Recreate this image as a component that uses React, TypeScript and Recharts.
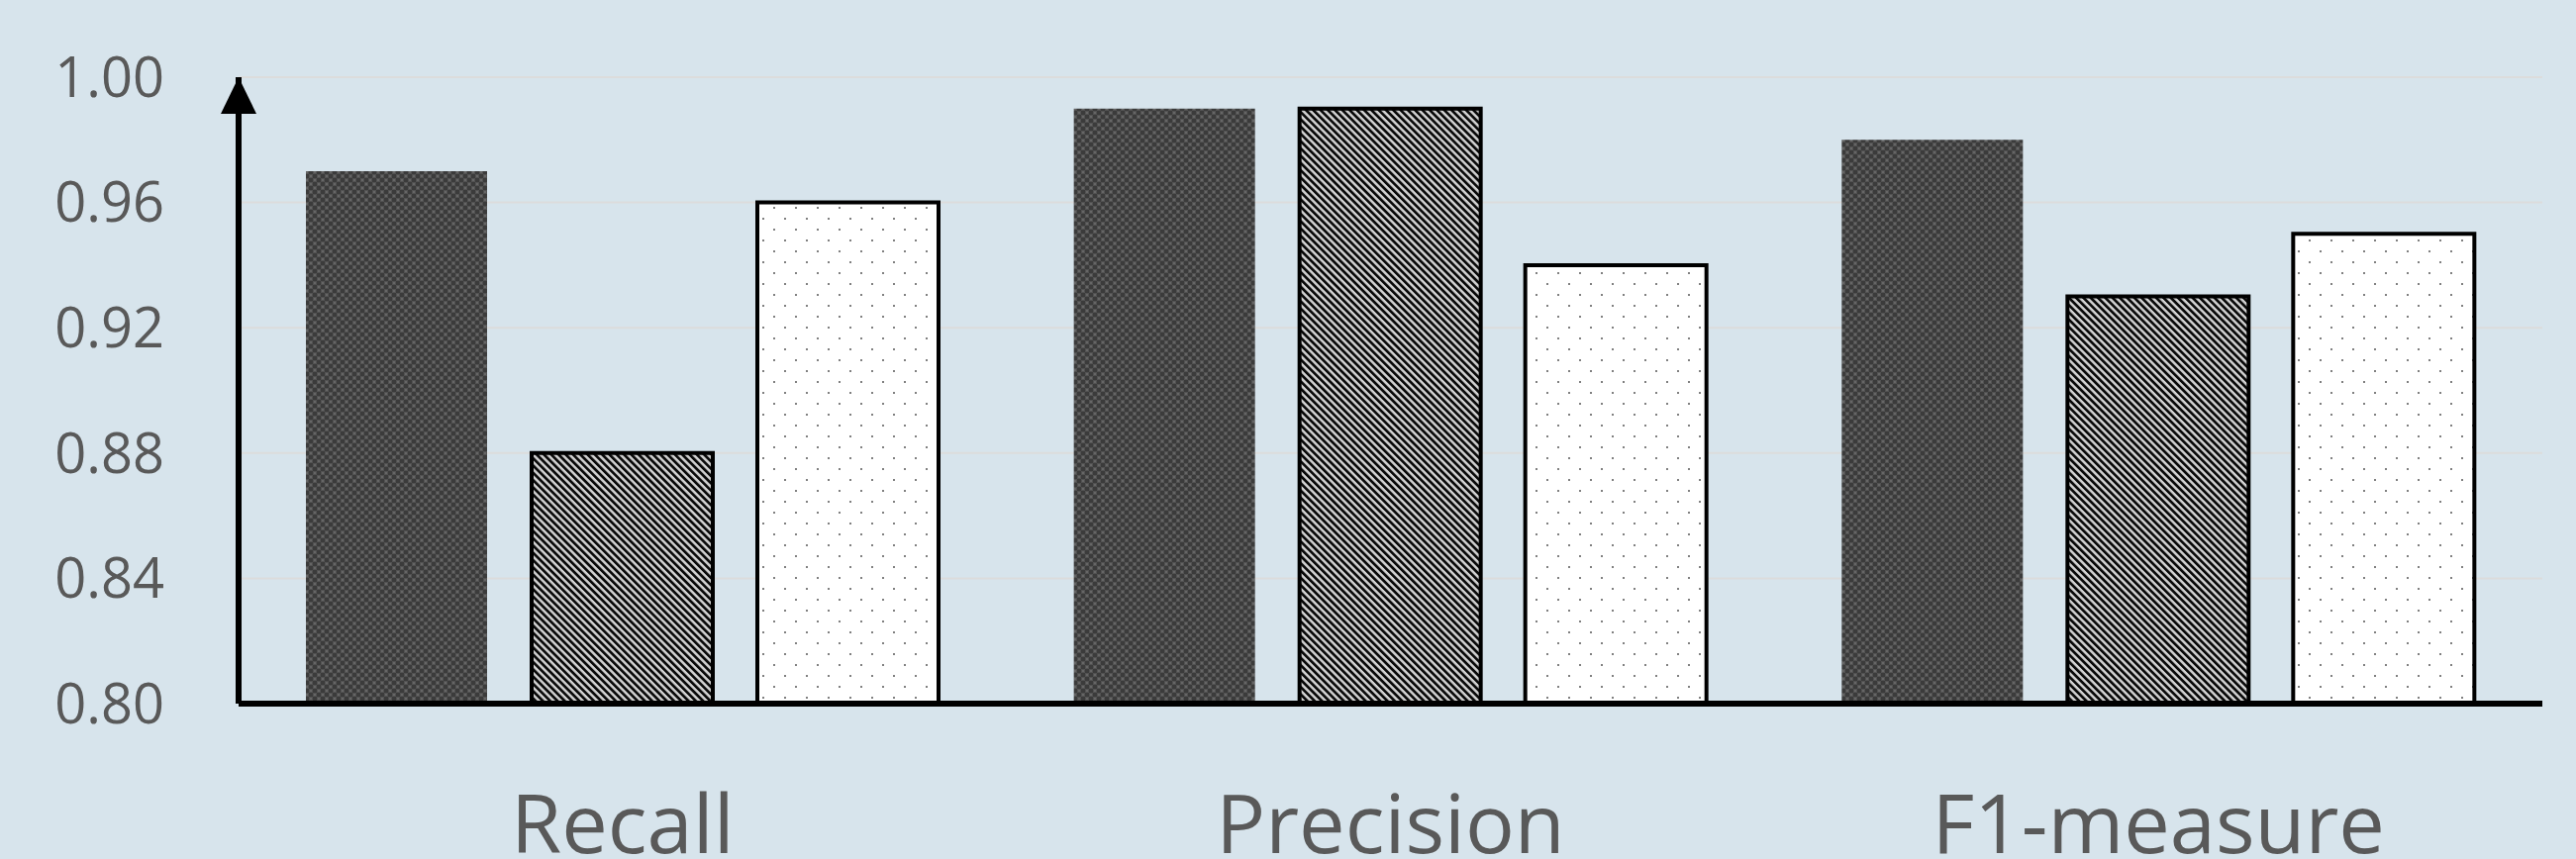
import React from 'react';
import { BarChart, Bar, XAxis, YAxis, CartesianGrid } from 'recharts';

const categories = ['Recall', 'Precision', 'F1-measure'];
const seriesA = [0.97, 0.99, 0.98];
const seriesB = [0.88, 0.99, 0.93];
const seriesC = [0.96, 0.94, 0.95];
const yTicks = [0.8, 0.84, 0.88, 0.92, 0.96, 1.0];

const data = categories.map((name, i) => ({
  name,
  a: seriesA[i],
  b: seriesB[i],
  c: seriesC[i],
}));

const W = 2602;
const H = 868;
const BG = '#d7e4ec';
const TEXT = '#595959';

function ArrowHead(props: any) {
  const vb = props.viewBox || {};
  const x = (vb.x || 0) + (vb.width || 0);
  const y = vb.y || 0;
  return <path d={`M${x - 18},${y + 37} L${x},${y} L${x + 18},${y + 37} Z`} fill="#000" />;
}

export default function App() {
  return (
    <div style={{ position: 'absolute', left: 0, top: 0, width: W, height: H, background: BG }}>
      <BarChart
        width={W}
        height={H}
        data={data}
        margin={{ top: 78, right: 34, bottom: 0, left: 0 }}
        barSize={183}
        barGap={45}
        style={{ background: BG }}
      >
        <defs>
          <pattern id="patA" width="8" height="8" patternUnits="userSpaceOnUse">
            <rect width="8" height="8" fill="#3b3b3b" />
            <rect x="0" y="0" width="4" height="4" fill="#525252" />
            <rect x="4" y="4" width="4" height="4" fill="#525252" />
            <rect x="1" y="1" width="2" height="2" fill="#666666" />
            <rect x="5" y="5" width="2" height="2" fill="#666666" />
          </pattern>
          <pattern id="patB" width="5.2" height="10" patternUnits="userSpaceOnUse" patternTransform="rotate(-45)">
            <rect width="5.2" height="10" fill="#d2d2d2" />
            <rect width="2.7" height="10" fill="#0a0a0a" />
          </pattern>
          <pattern id="patC" width="22" height="22" patternUnits="userSpaceOnUse">
            <rect width="22" height="22" fill="#ffffff" />
            <rect x="0" y="0" width="2" height="2" fill="#808080" />
            <rect x="11" y="11" width="2" height="2" fill="#808080" />
          </pattern>
        </defs>
        <CartesianGrid horizontal vertical={false} stroke="#dcdcdc" strokeWidth={2} />
        <Bar dataKey="a" fill="url(#patA)" isAnimationActive={false} />
        <Bar dataKey="b" fill="url(#patB)" stroke="#000" strokeWidth={4} isAnimationActive={false} />
        <Bar dataKey="c" fill="url(#patC)" stroke="#000" strokeWidth={4} isAnimationActive={false} />
        <XAxis
          dataKey="name"
          height={157}
          tickSize={0}
          tickMargin={92}
          tickLine={false}
          axisLine={{ stroke: '#000', strokeWidth: 6 }}
          tick={{ fill: TEXT, fontSize: 83, fontFamily: 'Open Sans' }}
        />
        <YAxis
          width={241}
          domain={[0.8, 1.0]}
          ticks={yTicks}
          tickFormatter={(v: number) => v.toFixed(2)}
          tickSize={0}
          tickMargin={75}
          tickLine={false}
          axisLine={{ stroke: '#000', strokeWidth: 6 }}
          tick={{ fill: TEXT, fontSize: 56, fontFamily: 'Open Sans' }}
          label={{ content: (p: any) => <ArrowHead {...p} /> }}
        />
      </BarChart>
    </div>
  );
}
